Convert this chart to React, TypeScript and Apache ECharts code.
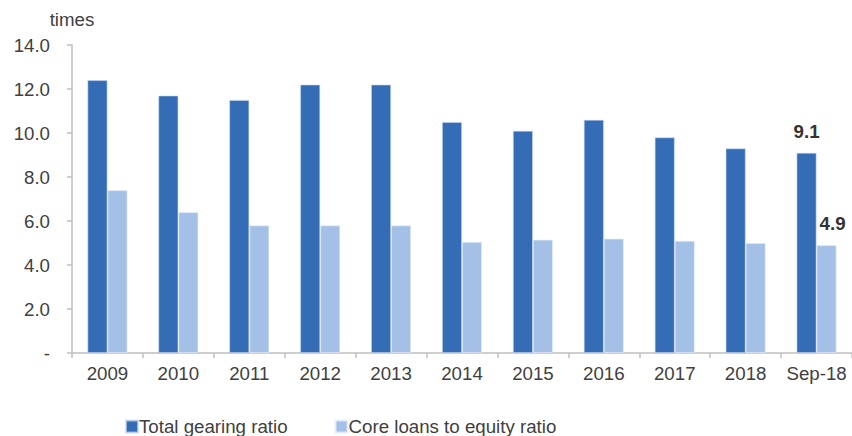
import React, { useEffect, useRef } from "react";
import * as echarts from "echarts";

const categories = ["2009", "2010", "2011", "2012", "2013", "2014", "2015", "2016", "2017", "2018", "Sep-18"];
const totalGearing = [12.4, 11.7, 11.5, 12.2, 12.2, 10.5, 10.1, 10.6, 9.8, 9.3, 9.1];
const coreLoans = [7.4, 6.4, 5.8, 5.8, 5.8, 5.05, 5.15, 5.2, 5.1, 5.0, 4.9];
const seriesNames = ["Total gearing ratio", "Core loans to equity ratio"];
const labelledIndex = 10;

const FONT = "Liberation Sans, Arial, sans-serif";
const FS = 18.7;

export default function App() {
  const ref = useRef<HTMLDivElement>(null);
  useEffect(() => {
    if (!ref.current) return;
    const chart = echarts.init(ref.current, undefined, { renderer: "svg" });
    const lbl = (dist: number, dx: number) => ({
      show: true,
      position: "top",
      distance: dist,
      offset: [dx, 0],
      fontFamily: FONT,
      fontSize: FS,
      fontWeight: "bold",
      color: "#333333",
      formatter: (p: any) => (p.dataIndex === labelledIndex ? Number(p.value).toFixed(1) : ""),
    });
    chart.setOption({
      animation: false,
      textStyle: { fontFamily: FONT },
      grid: { left: 72, top: 45, width: 784, height: 308, containLabel: false },
      legend: {
        top: 417,
        left: 125,
        padding: 0,
        itemWidth: 12,
        itemHeight: 12,
        itemGap: 47,
        icon: "rect",
        textStyle: { fontFamily: FONT, fontSize: FS, color: "#404040", padding: [0, 0, 0, -4] },
        data: seriesNames,
      },
      xAxis: {
        type: "category",
        data: categories,
        axisLine: { lineStyle: { color: "#bfbfbf", width: 1.5 } },
        axisTick: { show: true, length: 5, alignWithLabel: false, interval: 0, lineStyle: { color: "#bfbfbf", width: 1.5 } },
        axisLabel: { fontFamily: FONT, fontSize: FS, color: "#404040", margin: 11, interval: 0 },
      },
      yAxis: {
        type: "value",
        min: 0,
        max: 14,
        interval: 2,
        name: "times",
        nameLocation: "end",
        nameGap: 16,
        nameTextStyle: { fontFamily: FONT, fontSize: FS, color: "#404040", align: "center" },
        splitLine: { show: false },
        axisLine: { show: true, lineStyle: { color: "#bfbfbf", width: 1.5 } },
        axisTick: { show: true, length: 5, lineStyle: { color: "#bfbfbf", width: 1.5 } },
        axisLabel: {
          fontFamily: FONT,
          fontSize: FS,
          color: "#404040",
          margin: 22,
          formatter: (v: number) => (v === 0 ? "-" : v.toFixed(1)),
        },
      },
      series: [
        {
          name: seriesNames[0],
          type: "bar",
          data: totalGearing,
          barWidth: 20,
          barGap: "0%",
          itemStyle: { color: "#346CB5", borderColor: "rgba(200,215,240,0.7)", borderWidth: 0.8 },
          label: lbl(12, 0),
        },
        {
          name: seriesNames[1],
          type: "bar",
          data: coreLoans,
          barWidth: 20,
          barGap: "0%",
          itemStyle: { color: "#A5C0E6", borderColor: "rgba(230,238,250,0.8)", borderWidth: 0.8 },
          label: lbl(12, 6),
        },
      ],
    });
    return () => chart.dispose();
  }, []);
  return (
    <div
      ref={ref}
      style={{ position: "absolute", left: 0, top: 0, width: 852, height: 436, overflow: "hidden" }}
    />
  );
}
